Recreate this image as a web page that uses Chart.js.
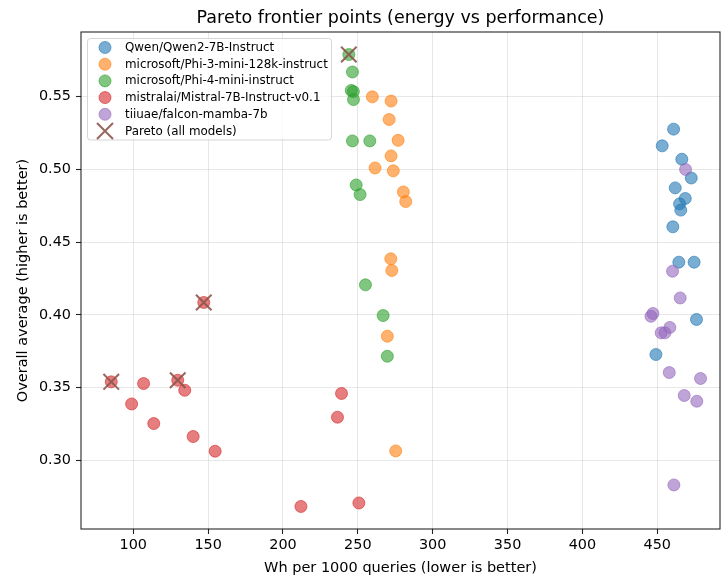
<!DOCTYPE html>
<html>
<head>
<meta charset="utf-8">
<script src="https://cdn.jsdelivr.net/npm/chart.js@4.4.1/dist/chart.umd.min.js"></script>
<style>
html,body{margin:0;padding:0;background:#fff;}
#wrap{width:721px;height:581px;position:relative;}
</style>
</head>
<body>
<div id="wrap"><canvas id="c" width="721" height="581"></canvas></div>
<script>
// ---- data ----
const modelNames = [
  "Qwen/Qwen2-7B-Instruct",
  "microsoft/Phi-3-mini-128k-instruct",
  "microsoft/Phi-4-mini-instruct",
  "mistralai/Mistral-7B-Instruct-v0.1",
  "tiiuae/falcon-mamba-7b"
];
const paretoLabel = "Pareto (all models)";

const qwenX = [460.9, 453.3, 466.4, 472.7, 462.0, 468.7, 464.9, 465.7, 460.4, 464.4, 474.6, 476.2, 449.1];
const qwenY = [0.5277, 0.5162, 0.507, 0.4941, 0.4873, 0.480, 0.4763, 0.472, 0.4605, 0.4362, 0.4362, 0.3968, 0.3727];

const phi3X = [259.7, 272.2, 270.9, 276.9, 272.2, 261.5, 273.7, 280.4, 282.0, 272.0, 272.7, 269.7, 275.3];
const phi3Y = [0.5499, 0.547, 0.5343, 0.520, 0.5093, 0.501, 0.499, 0.4845, 0.4779, 0.4385, 0.4305, 0.3853, 0.3064];

const phi4X = [244.0, 246.4, 245.6, 247.0, 247.1, 246.4, 258.0, 248.9, 251.5, 255.1, 266.9, 269.7];
const phi4Y = [0.579, 0.567, 0.5543, 0.5535, 0.548, 0.5196, 0.5196, 0.4893, 0.4827, 0.4206, 0.3995, 0.3715];

const mistralX = [147.1, 85.3, 106.9, 129.7, 134.4, 98.9, 113.7, 140.0, 154.7, 239.1, 236.4, 212.0, 250.7];
const mistralY = [0.4085, 0.3539, 0.3527, 0.355, 0.3481, 0.3387, 0.3252, 0.3163, 0.3062, 0.3459, 0.3296, 0.2682, 0.2706];

const falconX = [468.9, 460.2, 465.3, 447.1, 445.8, 458.4, 452.6, 455.1, 458.0, 478.9, 468.0, 476.4, 461.1];
const falconY = [0.500, 0.430, 0.4116, 0.4009, 0.399, 0.3913, 0.3876, 0.3876, 0.3603, 0.3562, 0.3445, 0.3406, 0.283];

const paretoX = [85.3, 129.7, 147.1, 244.0];
const paretoY = [0.3539, 0.355, 0.4085, 0.579];

const xTickStep = 50;
const yTickStep = 0.05;

const titleText = "Pareto frontier points (energy vs performance)";
const xTitle = "Wh per 1000 queries (lower is better)";
const yTitle = "Overall average (higher is better)";

// ---- styling ----
const colors = ["31,119,180", "255,127,14", "44,160,44", "214,39,40", "148,103,189"];
const paretoColor = "rgba(140,86,75,0.9)";
const FONT = "'DejaVu Sans', sans-serif";

function pts(xs, ys){ return xs.map((x,i)=>({x:x, y:ys[i]})); }

const seriesX = [qwenX, phi3X, phi4X, mistralX, falconX];
const seriesY = [qwenY, phi3Y, phi4Y, mistralY, falconY];

const datasets = modelNames.map((name, i) => ({
  label: name,
  data: pts(seriesX[i], seriesY[i]),
  pointRadius: 6,
  pointBorderWidth: 1,
  backgroundColor: `rgba(${colors[i]},0.6)`,
  borderColor: `rgba(${colors[i]},0.6)`,
  pointStyle: 'circle',
  showLine: false,
  order: 10 - i
}));
datasets.push({
  label: paretoLabel,
  data: pts(paretoX, paretoY),
  pointStyle: 'crossRot',
  pointRadius: 11,
  pointBorderWidth: 2,
  borderColor: paretoColor,
  backgroundColor: paretoColor,
  showLine: false,
  order: 0
});

const decor = {
  id: 'decor',
  afterDraw(chart){
    const ctx = chart.ctx;
    const a = chart.chartArea;
    ctx.save();
    // spines
    ctx.strokeStyle = 'rgba(0,0,0,0.85)';
    ctx.lineWidth = 1.1;
    ctx.strokeRect(a.left, a.top, a.right - a.left, a.bottom - a.top);
    // title
    ctx.fillStyle = '#000';
    ctx.textAlign = 'center';
    ctx.textBaseline = 'middle';
    ctx.font = `17.5px ${FONT}`;
    ctx.fillText(titleText, (a.left + a.right)/2, 18);
    // axis titles
    ctx.font = `14.5px ${FONT}`;
    ctx.fillText(xTitle, (a.left + a.right)/2, 568);
    ctx.save();
    ctx.translate(23, (a.top + a.bottom)/2);
    ctx.rotate(-Math.PI/2);
    ctx.fillText(yTitle, 0, 0);
    ctx.restore();
    // legend
    const lx = 87.5, ly = 38.5, lw = 244, lh = 101.5, r = 3;
    ctx.beginPath();
    ctx.moveTo(lx + r, ly);
    ctx.arcTo(lx + lw, ly, lx + lw, ly + lh, r);
    ctx.arcTo(lx + lw, ly + lh, lx, ly + lh, r);
    ctx.arcTo(lx, ly + lh, lx, ly, r);
    ctx.arcTo(lx, ly, lx + lw, ly, r);
    ctx.closePath();
    ctx.fillStyle = 'rgba(255,255,255,0.8)';
    ctx.fill();
    ctx.strokeStyle = 'rgba(204,204,204,0.8)';
    ctx.lineWidth = 1;
    ctx.stroke();
    ctx.font = `11.9px ${FONT}`;
    ctx.textAlign = 'left';
    ctx.textBaseline = 'middle';
    const mx = 105, tx = 125, y0 = 47.5, dy = 16.7;
    chart.data.datasets.forEach((ds, i) => {
      const yy = y0 + i*dy;
      if (ds.pointStyle === 'circle'){
        ctx.beginPath();
        ctx.arc(mx, yy, 6, 0, Math.PI*2);
        ctx.fillStyle = ds.backgroundColor;
        ctx.fill();
        ctx.strokeStyle = ds.borderColor;
        ctx.lineWidth = 1;
        ctx.stroke();
      } else {
        const h = 8;
        ctx.beginPath();
        ctx.moveTo(mx - h, yy - h); ctx.lineTo(mx + h, yy + h);
        ctx.moveTo(mx - h, yy + h); ctx.lineTo(mx + h, yy - h);
        ctx.strokeStyle = ds.borderColor;
        ctx.lineWidth = 2;
        ctx.stroke();
      }
      ctx.fillStyle = '#000';
      ctx.fillText(ds.label, tx, yy + 0.5);
    });
    ctx.restore();
  }
};

new Chart(document.getElementById('c'), {
  type: 'scatter',
  data: { datasets },
  options: {
    responsive: false,
    animation: false,
    events: [],
    layout: { autoPadding: false, padding: { top: 32, left: 0, right: 1, bottom: 0 } },
    plugins: { legend: { display: false }, title: { display: false }, tooltip: { enabled: false } },
    scales: {
      x: {
        type: 'linear',
        min: 65.1, max: 491.9,
        afterFit(s){ s.height = 52; s.paddingLeft = 0; s.paddingRight = 0; },
        border: { display: false },
        grid: { color: 'rgba(176,176,176,0.3)', lineWidth: 1, tickColor: 'rgba(0,0,0,0.85)', tickLength: 5, tickWidth: 1.1 },
        ticks: { stepSize: xTickStep, includeBounds: false, padding: 3, color: '#000',
                 font: { family: FONT, size: 14.4 }, maxRotation: 0,
                 callback: v => String(Math.round(v)) }
      },
      y: {
        type: 'linear',
        min: 0.2527, max: 0.5945,
        afterFit(s){ s.width = 81; s.paddingTop = 0; s.paddingBottom = 0; },
        border: { display: false },
        grid: { color: 'rgba(176,176,176,0.3)', lineWidth: 1, tickColor: 'rgba(0,0,0,0.85)', tickLength: 5, tickWidth: 1.1 },
        ticks: { stepSize: yTickStep, includeBounds: false, padding: 5, color: '#000',
                 font: { family: FONT, size: 14.4 },
                 callback: v => Number(v).toFixed(2) }
      }
    }
  },
  plugins: [decor]
});
</script>
</body>
</html>
